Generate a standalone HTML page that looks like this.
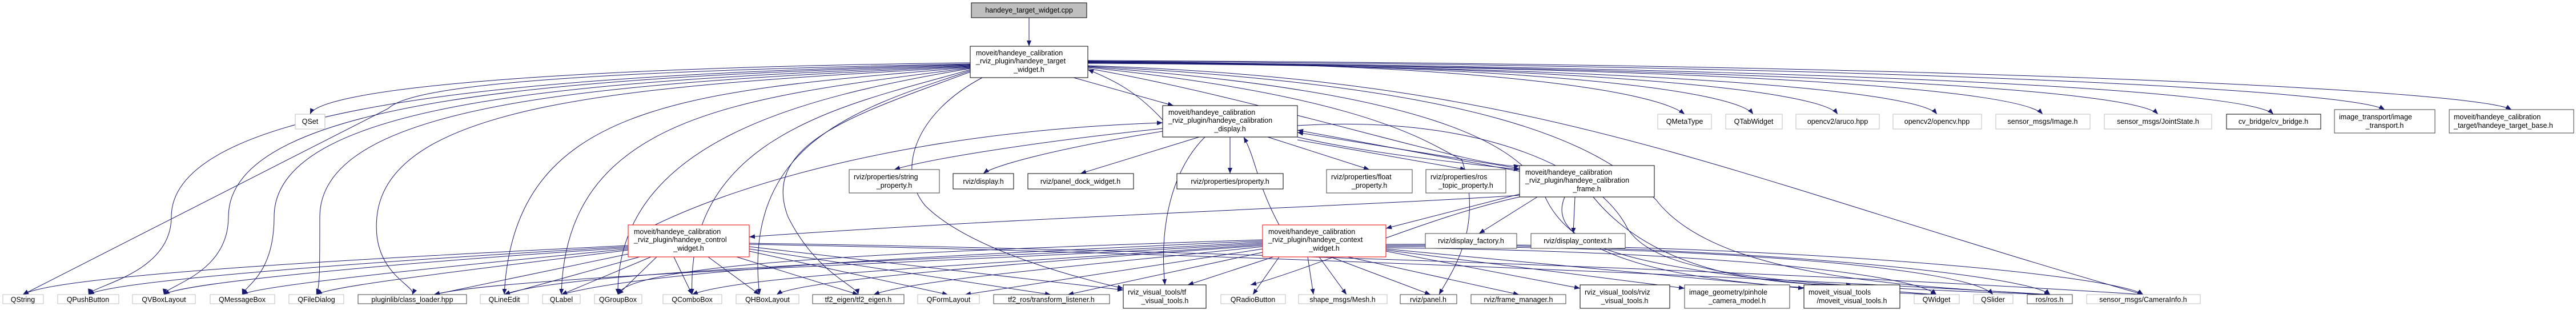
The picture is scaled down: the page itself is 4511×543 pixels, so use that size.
<!DOCTYPE html>
<html><head><meta charset="utf-8"><style>
html,body{margin:0;padding:0;background:#fff;width:4511px;height:543px;overflow:hidden}
svg{display:block}
text{font-family:"Liberation Sans",sans-serif;font-size:12.5px;fill:#000}
.e{fill:none;stroke:#191970;stroke-width:1}
.g{fill:#fff;stroke:#bfbfbf;stroke-width:1}
.b{fill:#fff;stroke:#000;stroke-width:1}
.d{fill:#fff;stroke:#404040;stroke-width:1}
.r{fill:#fff;stroke:#ff0000;stroke-width:1}
</style></head><body>
<svg width="4511" height="543" viewBox="0 0 4511 543" xmlns="http://www.w3.org/2000/svg">
<defs><marker id="a" viewBox="0 0 10 8" refX="10" refY="4" markerWidth="10" markerHeight="8" markerUnits="userSpaceOnUse" orient="auto"><path d="M0 0 L10 4 L0 8 z" fill="#191970"/></marker></defs>
<g class="e" marker-end="url(#a)">
<!-- cpp -> TW -->
<path d="M1802 31 L1802 81"/>
<!-- TW left -> top/bottom -->
<path d="M1699 110 C900 120, 560 160, 543 200"/>
<path d="M1699 112 C1000 125, 720 150, 680 190 L40 516"/>
<path d="M1699 113 C1000 130, 300 170, 300 380 C300 480, 160 500, 155 516"/>
<path d="M1699 114 C1000 135, 400 170, 400 380 C400 480, 290 500, 287 516"/>
<path d="M1699 115 C1050 140, 480 170, 480 380 C480 480, 430 500, 424 516"/>
<path d="M1699 116 C1100 145, 560 170, 560 380 C560 480, 560 500, 554 516"/>
<path d="M1699 117 C1150 150, 680 170, 660 380 C650 480, 730 500, 722 516"/>
<path d="M1699 118 C1200 160, 900 180, 883 516"/>
<path d="M1699 119 C1300 170, 990 200, 983 516"/>
<path d="M1699 120 C1400 170, 1080 250, 1082 516"/>
<path d="M1699 122 C1500 180, 1200 230, 1212 516"/>
<path d="M1699 124 C1500 190, 1300 250, 1330 516"/>
<path d="M1699 126 C1500 200, 1330 250, 1380 380 C1430 480, 1500 500, 1503 516"/>
<path d="M1720 136 C1600 200, 1570 300, 1620 360 C1700 440, 1900 490, 1967 505"/>
<path d="M1880 136 L2055 185"/>
<!-- TW right -> top row -->
<path d="M1905 108 C2600 110, 2900 160, 2950 200"/>
<path d="M1905 109 C2700 112, 3040 160, 3070 200"/>
<path d="M1905 110 C2800 114, 3190 160, 3218 200"/>
<path d="M1905 111 C2900 116, 3360 160, 3392 200"/>
<path d="M1905 110 C3100 118, 3540 160, 3577 200"/>
<path d="M1905 109 C3200 120, 3740 160, 3779 200"/>
<path d="M1905 108 C3300 120, 3940 160, 3981 200"/>
<path d="M1905 107 C3400 115, 4120 160, 4176 192"/>
<path d="M1905 106 C3500 112, 4340 160, 4398 192"/>
<path d="M1905 115 C2700 140, 3000 300, 3753 516"/>
<path d="M1905 116 C2600 150, 2800 250, 2900 350 C3000 480, 3300 500, 3590 516"/>
<path d="M1905 117 C2500 160, 2650 250, 2700 330 C2750 480, 3000 500, 3391 516"/>
<path d="M1905 118 C2400 170, 2500 250, 2560 280 C2600 400, 2540 480, 2520 516"/>
<path d="M1905 120 C2200 170, 2600 300, 2661 290"/>
<!-- display -->
<path d="M2036 225 C1800 250, 1620 280, 1566 297"/>
<path d="M2036 230 C1850 260, 1740 290, 1722 304"/>
<path d="M2100 240 L1892 304"/>
<path d="M2154 240 L2154 304"/>
<path d="M2220 240 L2398 297"/>
<path d="M2272 245 L2567 297"/>
<path d="M2272 240 C2400 270, 2600 290, 2661 297"/>
<path d="M2110 240 C2050 300, 2030 400, 2040 499"/>
<path d="M2036 210 C1990 160, 1950 140, 1905 122"/>
<path d="M2272 220 C2600 200, 2800 300, 2850 400 C2900 480, 3100 500, 3591 516"/>
<!-- frame -->
<path d="M2661 300 L2272 228"/>
<path d="M2661 295 L2272 232"/>
<path d="M2692 345 L2590 409"/>
<path d="M2758 345 L2755 409"/>
<path d="M2661 340 L2427 400"/>
<path d="M2661 342 C2400 360, 1800 380, 1312 415"/>
<path d="M2661 345 C2500 380, 2300 470, 2190 499"/>
<path d="M2790 345 C2900 480, 3100 500, 3243 499"/>
<path d="M2740 345 C2700 440, 2900 480, 3391 516"/>
<!-- control -->
<path d="M1147 394 C1300 320, 1600 230, 2036 215"/>
<path d="M1100 430 C700 450, 100 480, 40 516"/>
<path d="M1100 432 C700 455, 200 490, 155 516"/>
<path d="M1100 434 C700 460, 320 495, 287 516"/>
<path d="M1100 436 C800 465, 450 500, 424 516"/>
<path d="M1100 438 C850 470, 580 500, 554 516"/>
<path d="M1100 445 L760 516"/>
<path d="M1120 450 L883 516"/>
<path d="M1140 450 L983 516"/>
<path d="M1150 450 L1082 516"/>
<path d="M1180 450 L1212 516"/>
<path d="M1240 450 L1330 516"/>
<path d="M1290 450 L1503 516"/>
<path d="M1312 440 L1660 516"/>
<path d="M1312 436 L1840 516"/>
<path d="M1312 432 L1967 508"/>
<path d="M1312 428 C2000 440, 3000 480, 3590 516"/>
<path d="M1312 426 C2200 440, 3200 480, 3753 516"/>
<!-- context -->
<path d="M2240 394 C2200 320, 2200 280, 2178 240"/>
<path d="M2211 420 C1600 440, 1100 460, 1082 516"/>
<path d="M2211 422 C1700 445, 1150 470, 983 516"/>
<path d="M2211 424 C1800 450, 1000 470, 883 516"/>
<path d="M2211 426 C1800 455, 900 480, 760 516"/>
<path d="M2211 428 C1800 460, 1300 480, 1212 516"/>
<path d="M2211 430 C1800 460, 1400 490, 1360 516"/>
<path d="M2211 432 C1900 465, 1600 490, 1530 516"/>
<path d="M2211 436 L1690 516"/>
<path d="M2211 442 L1870 516"/>
<path d="M2230 450 L2080 499"/>
<path d="M2240 450 L2194 516"/>
<path d="M2290 450 L2300 516"/>
<path d="M2310 450 L2358 516"/>
<path d="M2330 450 L2505 516"/>
<path d="M2360 450 L2660 516"/>
<path d="M2427 440 L2767 505"/>
<path d="M2427 438 L2950 505"/>
<path d="M2427 436 L3159 505"/>
<path d="M2427 434 C3000 440, 3350 480, 3391 516"/>
<path d="M2427 432 C3000 430, 3450 470, 3490 516"/>
<path d="M2427 430 C3000 425, 3550 480, 3590 516"/>
<path d="M2427 428 C3100 425, 3700 480, 3753 516"/>
</g>
<!-- nodes -->
<rect class="b" x="1701" y="5" width="202" height="26" style="fill:#bfbfbf"/><text x="1802" y="22" text-anchor="middle">handeye_target_widget.cpp</text>
<rect class="b" x="1699" y="81" width="206" height="55"/><text x="1709" y="97">moveit/handeye_calibration</text><text x="1709" y="111">_rviz_plugin/handeye_target</text><text x="1802" y="126" text-anchor="middle">_widget.h</text>
<rect class="b" x="2036" y="185" width="236" height="55"/><text x="2046" y="201">moveit/handeye_calibration</text><text x="2046" y="215">_rviz_plugin/handeye_calibration</text><text x="2154" y="230" text-anchor="middle">_display.h</text>
<rect class="b" x="2661" y="290" width="236" height="55"/><text x="2671" y="306">moveit/handeye_calibration</text><text x="2671" y="320">_rviz_plugin/handeye_calibration</text><text x="2779" y="335" text-anchor="middle">_frame.h</text>
<rect class="r" x="1100" y="394" width="212" height="56"/><text x="1110" y="410">moveit/handeye_calibration</text><text x="1110" y="424">_rviz_plugin/handeye_control</text><text x="1206" y="439" text-anchor="middle">_widget.h</text>
<rect class="r" x="2211" y="394" width="216" height="56"/><text x="2221" y="410">moveit/handeye_calibration</text><text x="2221" y="424">_rviz_plugin/handeye_context</text><text x="2319" y="439" text-anchor="middle">_widget.h</text>
<rect class="d" x="1487" y="297" width="158" height="41"/><text x="1495" y="314">rviz/properties/string</text><text x="1566" y="329" text-anchor="middle">_property.h</text>
<rect class="b" x="1669" y="304" width="106" height="27"/><text x="1722" y="322" text-anchor="middle">rviz/display.h</text>
<rect class="b" x="1800" y="304" width="185" height="27"/><text x="1892" y="322" text-anchor="middle">rviz/panel_dock_widget.h</text>
<rect class="b" x="2061" y="304" width="186" height="27"/><text x="2154" y="322" text-anchor="middle">rviz/properties/property.h</text>
<rect class="d" x="2323" y="297" width="150" height="41"/><text x="2331" y="314">rviz/properties/float</text><text x="2398" y="329" text-anchor="middle">_property.h</text>
<rect class="d" x="2497" y="297" width="140" height="41"/><text x="2505" y="314">rviz/properties/ros</text><text x="2567" y="329" text-anchor="middle">_topic_property.h</text>
<rect class="d" x="2496" y="409" width="160" height="26"/><text x="2576" y="426" text-anchor="middle">rviz/display_factory.h</text>
<rect class="d" x="2681" y="409" width="165" height="26"/><text x="2763" y="426" text-anchor="middle">rviz/display_context.h</text>
<!-- top row -->
<rect class="g" x="517" y="200" width="52" height="26"/><text x="543" y="217" text-anchor="middle">QSet</text>
<rect class="g" x="2903" y="200" width="94" height="26"/><text x="2950" y="217" text-anchor="middle">QMetaType</text>
<rect class="g" x="3022" y="200" width="99" height="26"/><text x="3071" y="217" text-anchor="middle">QTabWidget</text>
<rect class="g" x="3145" y="200" width="146" height="26"/><text x="3218" y="217" text-anchor="middle">opencv2/aruco.hpp</text>
<rect class="g" x="3315" y="200" width="155" height="26"/><text x="3392" y="217" text-anchor="middle">opencv2/opencv.hpp</text>
<rect class="g" x="3495" y="200" width="165" height="26"/><text x="3577" y="217" text-anchor="middle">sensor_msgs/Image.h</text>
<rect class="g" x="3685" y="200" width="188" height="26"/><text x="3779" y="217" text-anchor="middle">sensor_msgs/JointState.h</text>
<rect class="b" x="3899" y="200" width="165" height="26"/><text x="3981" y="217" text-anchor="middle">cv_bridge/cv_bridge.h</text>
<rect class="d" x="4088" y="192" width="176" height="41"/><text x="4096" y="209">image_transport/image</text><text x="4176" y="224" text-anchor="middle">_transport.h</text>
<rect class="d" x="4289" y="192" width="218" height="41"/><text x="4297" y="209">moveit/handeye_calibration</text><text x="4297" y="224">_target/handeye_target_base.h</text>
<!-- bottom row -->
<rect class="g" x="5" y="516" width="71" height="16"/><text x="40" y="529" text-anchor="middle">QString</text>
<rect class="g" x="101" y="516" width="107" height="16"/><text x="154" y="529" text-anchor="middle">QPushButton</text>
<rect class="g" x="232" y="516" width="110" height="16"/><text x="287" y="529" text-anchor="middle">QVBoxLayout</text>
<rect class="g" x="368" y="516" width="113" height="16"/><text x="424" y="529" text-anchor="middle">QMessageBox</text>
<rect class="g" x="506" y="516" width="96" height="16"/><text x="554" y="529" text-anchor="middle">QFileDialog</text>
<rect class="d" x="627" y="516" width="190" height="16"/><text x="722" y="529" text-anchor="middle">pluginlib/class_loader.hpp</text>
<rect class="g" x="841" y="516" width="84" height="16"/><text x="883" y="529" text-anchor="middle">QLineEdit</text>
<rect class="g" x="950" y="516" width="66" height="16"/><text x="983" y="529" text-anchor="middle">QLabel</text>
<rect class="g" x="1041" y="516" width="83" height="16"/><text x="1082" y="529" text-anchor="middle">QGroupBox</text>
<rect class="g" x="1161" y="516" width="103" height="16"/><text x="1212" y="529" text-anchor="middle">QComboBox</text>
<rect class="g" x="1289" y="516" width="110" height="16"/><text x="1344" y="529" text-anchor="middle">QHBoxLayout</text>
<rect class="d" x="1423" y="516" width="160" height="16"/><text x="1503" y="529" text-anchor="middle">tf2_eigen/tf2_eigen.h</text>
<rect class="g" x="1607" y="516" width="108" height="16"/><text x="1661" y="529" text-anchor="middle">QFormLayout</text>
<rect class="d" x="1740" y="516" width="203" height="16"/><text x="1841" y="529" text-anchor="middle">tf2_ros/transform_listener.h</text>
<rect class="b" x="1967" y="499" width="145" height="41"/><text x="1975" y="516">rviz_visual_tools/tf</text><text x="2040" y="531" text-anchor="middle">_visual_tools.h</text>
<rect class="g" x="2138" y="516" width="113" height="16"/><text x="2194" y="529" text-anchor="middle">QRadioButton</text>
<rect class="g" x="2274" y="516" width="155" height="16"/><text x="2351" y="529" text-anchor="middle">shape_msgs/Mesh.h</text>
<rect class="d" x="2452" y="516" width="99" height="16"/><text x="2501" y="529" text-anchor="middle">rviz/panel.h</text>
<rect class="d" x="2576" y="516" width="166" height="16"/><text x="2659" y="529" text-anchor="middle">rviz/frame_manager.h</text>
<rect class="b" x="2767" y="499" width="157" height="41"/><text x="2775" y="516">rviz_visual_tools/rviz</text><text x="2845" y="531" text-anchor="middle">_visual_tools.h</text>
<rect class="d" x="2950" y="499" width="184" height="41"/><text x="2958" y="516">image_geometry/pinhole</text><text x="3042" y="531" text-anchor="middle">_camera_model.h</text>
<rect class="b" x="3159" y="499" width="168" height="41"/><text x="3167" y="516">moveit_visual_tools</text><text x="3243" y="531" text-anchor="middle">/moveit_visual_tools.h</text>
<rect class="g" x="3352" y="516" width="79" height="16"/><text x="3391" y="529" text-anchor="middle">QWidget</text>
<rect class="g" x="3456" y="516" width="69" height="16"/><text x="3490" y="529" text-anchor="middle">QSlider</text>
<rect class="d" x="3550" y="516" width="79" height="16"/><text x="3589" y="529" text-anchor="middle">ros/ros.h</text>
<rect class="g" x="3654" y="516" width="199" height="16"/><text x="3753" y="529" text-anchor="middle">sensor_msgs/CameraInfo.h</text>
</svg>
</body></html>
